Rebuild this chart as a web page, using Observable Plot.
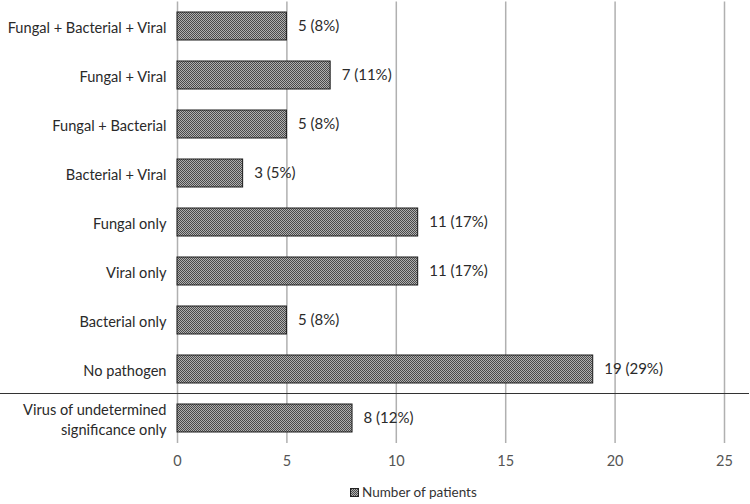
<!DOCTYPE html>
<html>
<head>
<meta charset="utf-8">
<script src="https://cdn.jsdelivr.net/npm/d3@7"></script>
<script src="https://cdn.jsdelivr.net/npm/@observablehq/plot@0.6"></script>
<style>
  body { margin: 0; background: #fff; font-family: Lato, sans-serif; overflow: hidden; }
  #chart { position: relative; width: 750px; }
  #legend { position: relative; height: 26px; font-size: 13.5px; color: #333; }
  #legend .item { position: absolute; left: 350px; top: 6px; display: flex; align-items: center; }
  #legend svg { margin-right: 3px; }
</style>
</head>
<body>
<div id="chart"></div>
<div id="legend"><div class="item"><svg width="9" height="9"><rect x="0.5" y="0.5" width="8" height="8" fill="url(#hatchL)" stroke="#222"/><defs><pattern id="hatchL" width="2" height="2" patternUnits="userSpaceOnUse"><rect width="2" height="2" fill="#b0b0b0"/><rect width="1" height="1" fill="#4a4a4a"/><rect x="1" y="1" width="1" height="1" fill="#4a4a4a"/></pattern></defs></svg><span>Number of patients</span></div></div>
<script>
const categories = [
  "Fungal + Bacterial + Viral",
  "Fungal + Viral",
  "Fungal + Bacterial",
  "Bacterial + Viral",
  "Fungal only",
  "Viral only",
  "Bacterial only",
  "No pathogen",
  "Virus of undetermined\nsignificance only"
];
const counts = [5, 7, 5, 3, 11, 11, 5, 19, 8];
const percents = [8, 11, 8, 5, 17, 17, 8, 29, 12];
const xTicks = [0, 5, 10, 15, 20, 25];
const separatorAfter = "No pathogen";

const data = categories.map((c, i) => ({category: c, count: counts[i], pct: percents[i]}));

const plot = Plot.plot({
  width: 750,
  height: 478,
  marginLeft: 177,
  marginRight: 26,
  marginTop: 1.5,
  marginBottom: 35,
  style: {fontFamily: "Lato, sans-serif", background: "#fff"},
  x: {domain: [0, 25], ticks: xTicks},
  y: {domain: categories, paddingInner: 0.43, paddingOuter: 0.215, label: null},
  marks: [
    Plot.ruleX(xTicks, {stroke: "#b0b0b0", strokeWidth: 1.5}),
    Plot.barX(data, {y: "category", x: "count", fill: "url(#hatch)", stroke: "#1a1a1a", strokeWidth: 1}),
    Plot.text(data, {y: "category", x: "count", text: d => `${d.count} (${d.pct}%)`, textAnchor: "start", dx: 11, fontSize: 15, fill: "#2a2a2a"}),
    Plot.axisY({tickSize: 0, tickPadding: 11, fontSize: 14.6, lineHeight: 1.35, color: "#2a2a2a", label: null}),
    Plot.axisX({ticks: xTicks, tickSize: 0, tickPadding: 12, fontSize: 14.5, color: "#555", label: null})
  ]
});

const svg = d3.select(plot);
svg.insert("defs", ":first-child").html(
  '<pattern id="hatch" width="2" height="2" patternUnits="userSpaceOnUse">' +
  '<rect width="2" height="2" fill="#b0b0b0"/>' +
  '<rect width="1" height="1" fill="#4a4a4a"/>' +
  '<rect x="1" y="1" width="1" height="1" fill="#4a4a4a"/></pattern>'
);
const ys = plot.scale("y");
const yb = ys.apply(separatorAfter) + ys.bandwidth + (ys.step - ys.bandwidth) / 2;
svg.append("line").attr("x1", 0).attr("x2", 749).attr("y1", yb).attr("y2", yb)
  .attr("stroke", "#333").attr("stroke-width", 1);

document.getElementById("chart").appendChild(plot);
</script>
</body>
</html>
